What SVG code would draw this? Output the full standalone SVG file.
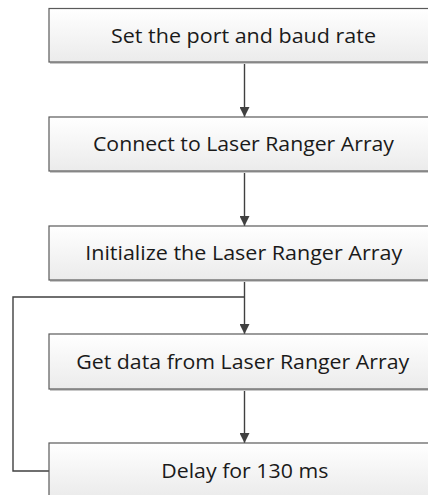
<svg xmlns="http://www.w3.org/2000/svg" width="428" height="495" viewBox="0 0 428 495">
  <defs>
    <linearGradient id="boxFill" x1="0" y1="0" x2="0" y2="1">
      <stop offset="0" stop-color="#ffffff"/>
      <stop offset="1" stop-color="#ebebeb"/>
    </linearGradient>
    <marker id="arrow" viewBox="0 0 10 10" refX="10" refY="5" markerWidth="10" markerHeight="10" markerUnits="userSpaceOnUse" orient="auto">
      <path d="M0,0 L10,5 L0,10 Z" fill="#404040"/>
    </marker>
  </defs>
  <style>
    .box { fill: url(#boxFill); stroke: #5a5a5a; stroke-width: 1.2; }
    .shadow { fill: #c8c8c8; }
    .label { font-family: "Open Sans", "Noto Sans", "Liberation Sans", sans-serif; font-size: 20px; fill: #1a1a1a; text-anchor: middle; }
    .link { fill: none; stroke: #404040; stroke-width: 1.4; }
  </style>
  <rect width="428" height="495" fill="#ffffff"/>

  <g id="connectors">
    <line class="link" x1="244.5" y1="62" x2="244.5" y2="117" marker-end="url(#arrow)"/>
    <line class="link" x1="244.5" y1="171" x2="244.5" y2="226" marker-end="url(#arrow)"/>
    <line class="link" x1="244.5" y1="280" x2="244.5" y2="334" marker-end="url(#arrow)"/>
    <line class="link" x1="244.5" y1="389" x2="244.5" y2="443" marker-end="url(#arrow)"/>
    <polyline class="link" points="49,471 13,471 13,297 244.5,297"/>
  </g>

  <g id="set-port">
    <rect class="shadow" x="50" y="62" width="400" height="2"/>
    <rect class="box" x="49" y="8.5" width="400" height="53.5"/>
    <text class="label" x="243.5" y="43" textLength="265" lengthAdjust="spacingAndGlyphs">Set the port and baud rate</text>
  </g>

  <g id="connect">
    <rect class="shadow" x="50" y="171" width="400" height="2"/>
    <rect class="box" x="49" y="117" width="400" height="54"/>
    <text class="label" x="243.5" y="151" textLength="301" lengthAdjust="spacingAndGlyphs">Connect to Laser Ranger Array</text>
  </g>

  <g id="initialize">
    <rect class="shadow" x="50" y="280" width="400" height="2"/>
    <rect class="box" x="49" y="226" width="400" height="54"/>
    <text class="label" x="243.7" y="260" textLength="317" lengthAdjust="spacingAndGlyphs">Initialize the Laser Ranger Array</text>
  </g>

  <g id="get-data">
    <rect class="shadow" x="50" y="389" width="400" height="2"/>
    <rect class="box" x="49" y="334" width="400" height="55"/>
    <text class="label" x="242.7" y="369" textLength="333" lengthAdjust="spacingAndGlyphs">Get data from Laser Ranger Array</text>
  </g>

  <g id="delay">
    <rect class="box" x="49" y="443" width="400" height="54"/>
    <text class="label" x="244.8" y="478" textLength="167" lengthAdjust="spacingAndGlyphs">Delay for 130 ms</text>
  </g>
</svg>
